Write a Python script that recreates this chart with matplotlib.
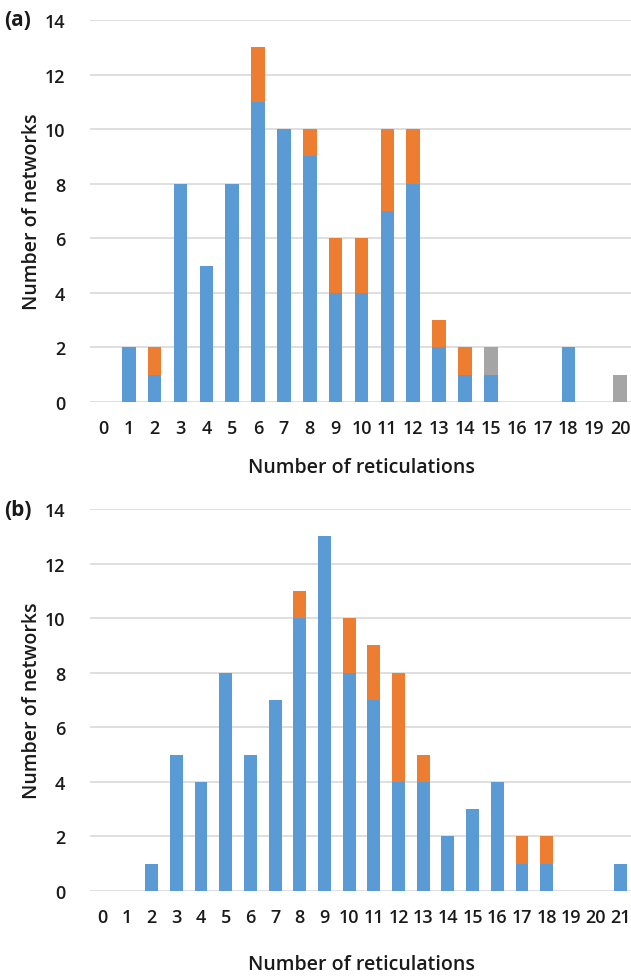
import numpy as np
import matplotlib
matplotlib.use('Agg')
from matplotlib import pyplot as plt

plt.rcParams['font.family'] = ['Open Sans', 'DejaVu Sans']

# panel (a)
cats_a = [str(i) for i in range(21)]
blue_a = [0, 2, 1, 8, 5, 8, 11, 10, 9, 4, 4, 7, 8, 2, 1, 1, 0, 0, 2, 0, 0]
orange_a = [0, 0, 1, 0, 0, 0, 2, 0, 1, 2, 2, 3, 2, 1, 1, 0, 0, 0, 0, 0, 0]
gray_a = [0, 0, 0, 0, 0, 0, 0, 0, 0, 0, 0, 0, 0, 0, 0, 1, 0, 0, 0, 0, 1]

# panel (b)
cats_b = [str(i) for i in range(22)]
blue_b = [0, 0, 1, 5, 4, 8, 5, 7, 10, 13, 8, 7, 4, 4, 2, 3, 4, 1, 1, 0, 0, 1]
orange_b = [0, 0, 0, 0, 0, 0, 0, 0, 1, 0, 2, 2, 4, 1, 0, 0, 0, 1, 1, 0, 0, 0]

yticks = [0, 2, 4, 6, 8, 10, 12, 14]

BLUE = '#5B9BD5'
ORANGE = '#ED7D31'
GRAY = '#A5A5A5'
TXT = '#1a1a1a'

W, H = 631, 978
fig = plt.figure(figsize=(W / 100, H / 100), dpi=100)


def panel(rect, cats, series, letter, label_y):
    ax = fig.add_axes(rect)
    x = np.arange(len(cats))
    bottom = np.zeros(len(cats))
    for vals, col in series:
        ax.bar(x, vals, width=0.52, bottom=bottom, color=col, zorder=3)
        bottom = bottom + np.array(vals)
    ax.set_xlim(-0.5, len(cats) - 0.5)
    ax.set_ylim(0, 14)
    ax.set_yticks(yticks)
    ax.set_xticks(x)
    ax.set_xticklabels(cats)
    ax.grid(axis='y', color='#D9D9D9', linewidth=1.2, zorder=0)
    for s in ax.spines.values():
        s.set_visible(False)
    ax.tick_params(length=0, labelsize=13, colors=TXT)
    ax.tick_params(axis='x', pad=12)
    ax.tick_params(axis='y', pad=18)
    for lab in ax.get_xticklabels() + ax.get_yticklabels():
        lab.set_fontweight('semibold')
    ax.set_ylabel('Number of networks', fontsize=14, color=TXT, labelpad=2,
                  fontweight='semibold')
    ax.set_xlabel('Number of reticulations', fontsize=14, color=TXT,
                  fontweight='semibold')
    ax.xaxis.set_label_coords(0.5, label_y)
    fig.text(4 / W, rect[1] + rect[3], '(' + letter + ')', fontsize=15,
             ha='left', va='center', color=TXT, fontweight='bold')
    return ax


ax1 = panel([90 / W, 1 - 403 / H, 543 / W, 382 / H], cats_a,
            [(blue_a, BLUE), (orange_a, ORANGE), (gray_a, GRAY)], 'a', -0.145)
ax2 = panel([90 / W, 1 - 892 / H, 543 / W, 382 / H], cats_b,
            [(blue_b, BLUE), (orange_b, ORANGE)], 'b', -0.165)

plt.savefig('out.png', dpi=100)
